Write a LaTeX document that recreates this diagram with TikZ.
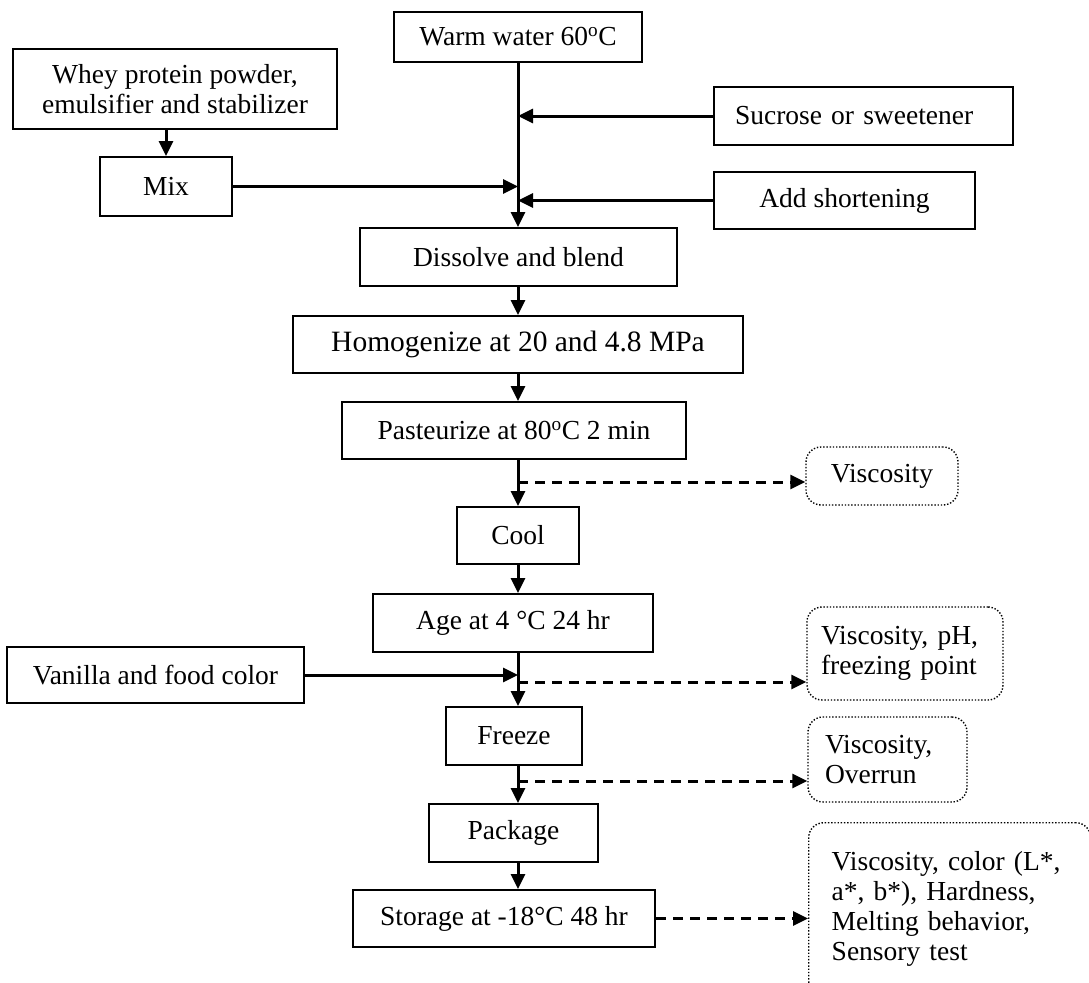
\documentclass[tikz,border=0pt]{standalone}
\usepackage{fontspec}
\setmainfont{Liberation Serif}
\usetikzlibrary{arrows.meta}
\begin{document}
\begin{tikzpicture}[x=1pt,y=-1pt,
  font=\fontsize{27.5}{30}\selectfont,
  procbox/.style={draw, line width=2pt, inner sep=0pt, align=center},
  testbox/.style={draw, line width=1.4pt, dash pattern=on 1.4pt off 1.8pt, rounded corners=15pt, align=left, inner ysep=0pt},
  flow/.style={line width=3pt, -{Triangle[length=15pt,width=14pt]}},
  meas/.style={flow, dash pattern=on 10pt off 7pt}]
\fill[white] (0,0) rectangle (1089,982);
\useasboundingbox (0,0) rectangle (1089,982);
\clip (0,0) rectangle (1089,982);
\coordinate (sp) at (518,0);
% process boxes
\node[procbox, minimum width=248pt, minimum height=50pt] (water) at (518,37) {Warm water 60\textsuperscript{o}C};
\node[procbox, minimum width=324pt, minimum height=80pt] (whey) at (175,89) {Whey protein powder,\\ emulsifier and stabilizer};
\node[procbox, minimum width=132pt, minimum height=59pt] (mix) at (166,186.5) {Mix};
\node[procbox, align=left, text width=257pt, inner xsep=21pt, minimum height=58pt] (sucrose) at (863.5,116) {Sucrose or sweetener};
\node[procbox, minimum width=261pt, minimum height=57pt] (short) at (844.5,200.5) {Add shortening};
\node[procbox, minimum width=317pt, minimum height=58pt] (dissolve) at (518.5,257) {Dissolve and blend};
\node[procbox, minimum width=450pt, minimum height=57pt, font=\fontsize{29.5}{32}\selectfont] (homog) at (518,344.5) {Homogenize at 20 and 4.8 MPa};
\node[procbox, minimum width=344pt, minimum height=57pt] (past) at (514,430.5) {Pasteurize at 80\textsuperscript{o}C 2 min};
\node[procbox, minimum width=122pt, minimum height=57pt] (cool) at (518,535.5) {Cool};
\node[procbox, minimum width=280pt, minimum height=58pt] (age) at (513,623) {Age at 4 °C 24 hr};
\node[procbox, minimum width=297pt, minimum height=56pt] (vanilla) at (155.5,675) {Vanilla and food color};
\node[procbox, minimum width=136pt, minimum height=58pt] (freeze) at (514,736) {Freeze};
\node[procbox, minimum width=169pt, minimum height=58pt] (package) at (513.5,833) {Package};
\node[procbox, minimum width=302pt, minimum height=57pt] (storage) at (504,918.5) {Storage at -18°C 48 hr};
% test boxes
\node[testbox, align=center, inner xsep=0pt, minimum width=152pt, minimum height=58pt] (visc1) at (882,476) {Viscosity};
\node[testbox, text width=168pt, inner xsep=14pt, minimum height=93pt] (vph) at (905,653.5) {Viscosity, pH,\\ freezing point};
\node[testbox, text width=125pt, inner xsep=17pt, minimum height=85pt] (overrun) at (887.5,759.5) {Viscosity,\\ Overrun};
\node[testbox, anchor=north west, text width=236pt, inner xsep=23pt, minimum height=173pt] (big) at (808,822) {Viscosity, color (L*,\\ a*, b*), Hardness,\\ Melting behavior,\\ Sensory test};
% connectors
\draw[flow] (water.south) -- (sp |- dissolve.north);
\draw[flow] (sucrose.west) -- (sp |- sucrose.west);
\draw[flow] (mix.east) -- (sp |- mix.east);
\draw[flow] (short.west) -- (sp |- short.west);
\draw[flow] (mix.north |- whey.south) -- (mix.north);
\draw[flow] (sp |- dissolve.south) -- (sp |- homog.north);
\draw[flow] (sp |- homog.south) -- (sp |- past.north);
\draw[flow] (sp |- past.south) -- (sp |- cool.north);
\coordinate (d1) at (518,482);
\draw[meas] (d1) -- (d1 -| visc1.west);
\draw[flow] (sp |- cool.south) -- (sp |- age.north);
\draw[flow] (sp |- age.south) -- (sp |- freeze.north);
\draw[flow] (vanilla.east) -- (sp |- vanilla.east);
\coordinate (d2) at (518,682);
\draw[meas] (d2) -- (d2 -| vph.west);
\draw[flow] (sp |- freeze.south) -- (sp |- package.north);
\coordinate (d3) at (518,781);
\draw[meas] (d3) -- (d3 -| overrun.west);
\draw[flow] (sp |- package.south) -- (sp |- storage.north);
\draw[meas] (storage.east) -- (storage.east -| big.west);
\end{tikzpicture}
\end{document}
